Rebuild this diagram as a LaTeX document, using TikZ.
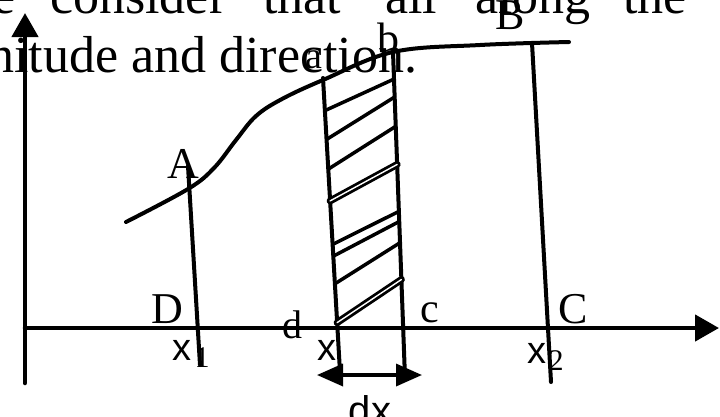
\documentclass[tikz,border=0pt]{standalone}
\usepackage{fontspec}
\setmainfont{Liberation Serif}
\setsansfont{Liberation Sans}
\usetikzlibrary{calc, arrows.meta}
\definecolor{inkblack}{RGB}{0, 0, 0}

\begin{document}
\begin{tikzpicture}[x=1pt, y=-1pt, line cap=round, line join=round,
    axis/.style={inkblack, line width=4.5pt, -{Triangle[length=24pt, width=26pt]}},
    ordinate/.style={inkblack, line width=4pt},
    hatch/.style={inkblack, line width=3.5pt},
    hatchdbl/.style={inkblack, double, double distance=1.4pt, line width=2.8pt},
    dxarrow/.style={inkblack, line width=3.5pt,
        {Triangle[length=26pt, width=22pt]}-{Triangle[length=26pt, width=22pt]}},
    bookline/.style={font=\fontsize{52}{52}\selectfont, anchor=base west, inner sep=0pt},
    lbl/.style={font=\fontsize{#1}{#1}\selectfont, anchor=base, inner sep=0pt},
    xlbl/.style={font=\sffamily\fontsize{#1}{#1}\selectfont, anchor=base, inner sep=0pt}]

    % Page frame (720 x 416)
    \useasboundingbox (0,0) rectangle (720,416);
    \clip (0,0) rectangle (720,416);
    \fill[white] (0,0) rectangle (720,416);

    % 1. Book text behind the sketch
    \node[bookline] (w1) at (-8,13) {e};
    \node[bookline] (w2) at (50,13) {consider};
    \node[bookline] (w3) at (263,13) {that};
    \node[bookline] (w4) at (385,13) {all};
    \node[bookline] (w5) at (475,13) {along};
    \node[bookline] (w6) at (623,13) {the};
    \node[bookline] (line2) at (-12,72) {nitude and direction.};

    % 2. Coordinates
    \coordinate (Ybot) at (25,383);
    \coordinate (Ytop) at (25,13);
    \coordinate (Xleft) at (25,328);
    \coordinate (Xright) at (719,328);
    \coordinate (At) at (188,166);  % ordinate through A
    \coordinate (Db) at (200,365);
    \coordinate (aT) at (323,78);   % left side of the strip
    \coordinate (dB) at (340,372);
    \coordinate (bT) at (393,52);   % right side of the strip
    \coordinate (cB) at (405,378);
    \coordinate (BT) at (532,43);   % ordinate through B
    \coordinate (CB) at (551,382);
    \coordinate (dxL) at (317,375);
    \coordinate (dxR) at (422,375);

    % 3. Axes
    \draw[axis] (Ybot) -- (Ytop);
    \draw[axis] (Xleft) -- (Xright);

    % 4. Curve
    \draw[ordinate] plot[smooth, tension=0.6] coordinates {
        (126,222) (188,189) (214,168) (236,140) (256,116) (282,99)
        (323,80) (393,52) (480,45) (569,42)};

    % 5. Ordinates
    \draw[ordinate] (At) -- (Db);
    \draw[ordinate] (aT) -- (dB);
    \draw[ordinate] (bT) -- (cB);
    \draw[ordinate] (BT) -- (CB);

    % 6. Hatching of the strip
    \foreach \p/\q in {.111/.083, .209/.138, .310/.228, .566/.489, .606/.520, .700/.585}
        \draw[hatch] ($(aT)!\p!(dB)$) -- ($(bT)!\q!(cB)$);
    \foreach \p/\q in {.418/.345, .832/.698}
        \draw[hatchdbl] ($(aT)!\p!(dB)$) -- ($(bT)!\q!(cB)$);

    % 7. Width of the strip
    \draw[dxarrow] (dxL) -- (dxR);

    % 8. Labels
    \node[lbl=44] (A) at (183,178) {A};
    \node[lbl=44] (B) at (510,29) {B};
    \node[lbl=44] (C) at (573,323) {C};
    \node[lbl=44] (D) at (167,323) {D};
    \node[lbl=38] (a) at (314,68) {a};
    \node[lbl=44] (b) at (388,53) {b};
    \node[lbl=42] (c) at (430,322) {c};
    \node[lbl=40] (d) at (292,338) {d};
    \node[xlbl=38] (x1) at (182,360) {x};
    \node[lbl=30] (n1) at (202,367) {1};
    \node[xlbl=38] (x) at (327,360) {x};
    \node[xlbl=38] (x2) at (537,363) {x};
    \node[lbl=30] (n2) at (556,370) {2};
    \node[xlbl=40] (dx) at (370,424) {dx};

\end{tikzpicture}
\end{document}
